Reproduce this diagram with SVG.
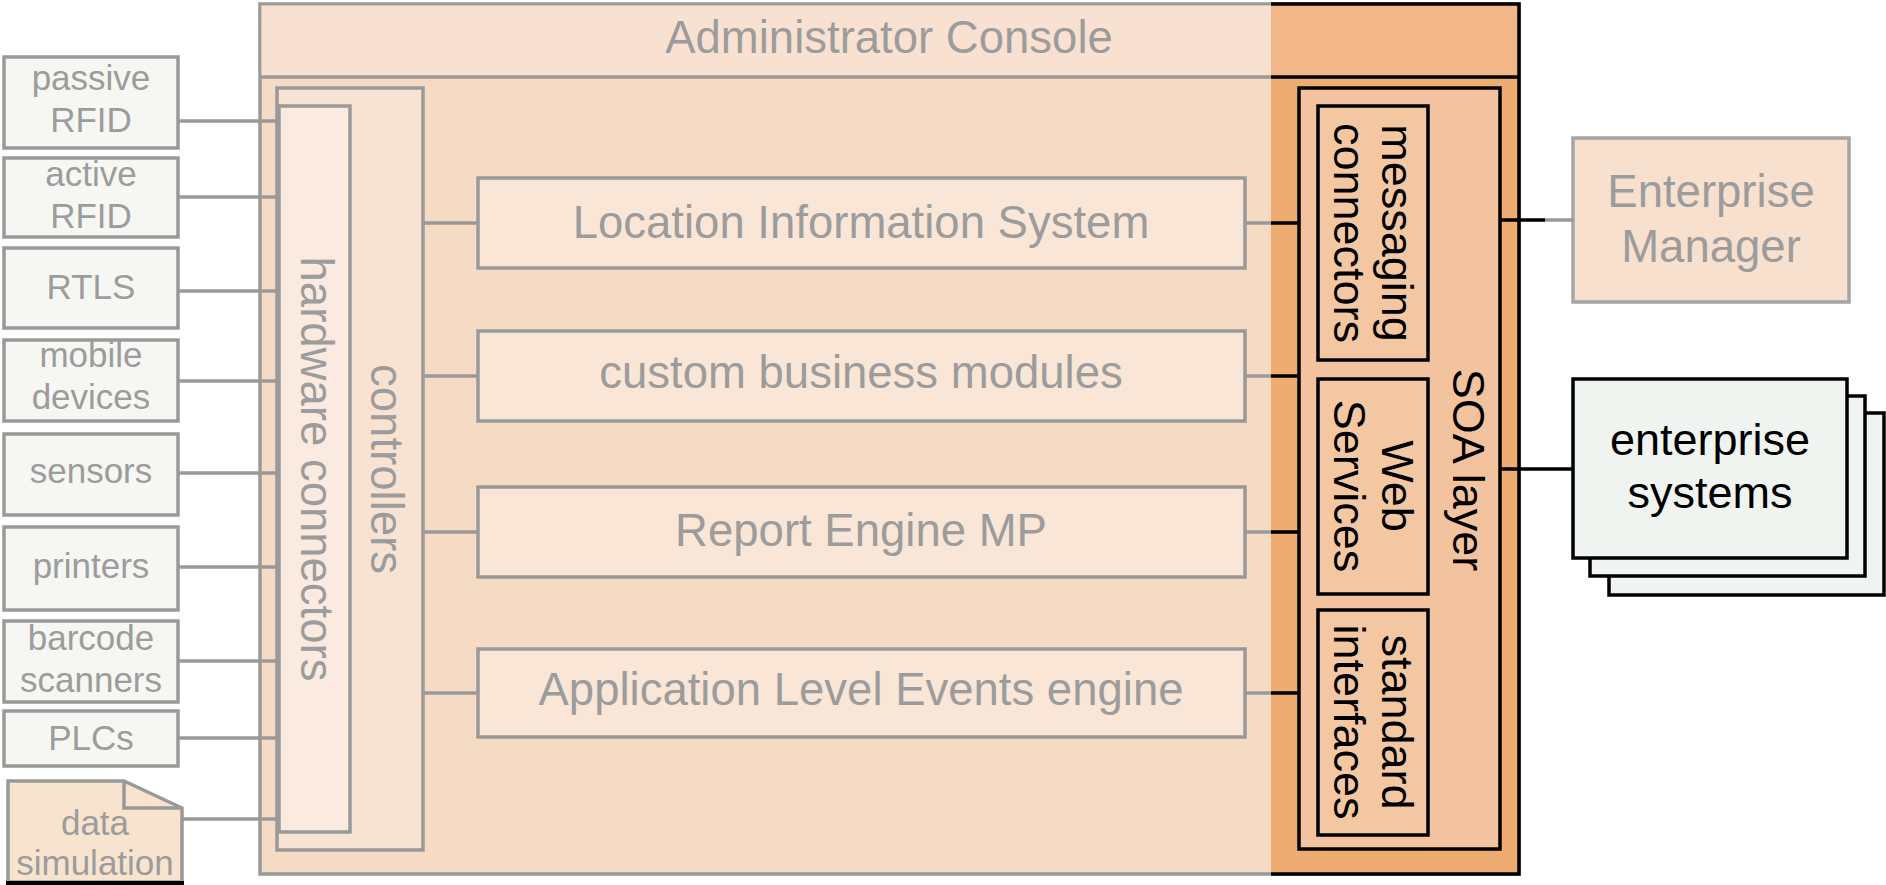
<svg xmlns="http://www.w3.org/2000/svg" width="1886" height="885" viewBox="0 0 1886 885">
<style>
.g{stroke:#999;stroke-width:3.5;fill:none}
.k{stroke:#000;stroke-width:3.5;fill:none}
.dev{fill:#F6F7F2;stroke:#999;stroke-width:3.5}
.mid{fill:#F9E6D7;stroke:#999;stroke-width:3.5}
.inner{fill:#F4C7A3;stroke:#000;stroke-width:3.5}
.tg{font-family:"Liberation Sans",Arial,sans-serif;fill:#9C9C9C;text-anchor:middle}
.tk{font-family:"Liberation Sans",Arial,sans-serif;fill:#000;text-anchor:middle}
.s35{font-size:35px}
.s44{font-size:45.5px}
.s45{font-size:45px}
</style>
<rect width="1886" height="885" fill="#fff"/>
<g id="admin-console">
<rect x="260" y="4" width="1259" height="870" fill="#F5DBC4" stroke="#999" stroke-width="3.5"/>
<rect x="261.5" y="5.5" width="1010" height="71" fill="#F9E1D1"/>
<line x1="260" y1="77" x2="1271" y2="77" class="g"/>
<rect x="1271" y="4" width="248" height="870" fill="#EEAB72"/>
<rect x="1271" y="4" width="248" height="73" fill="#F1B788"/>
<path d="M1271,4 H1519 V874 H1271 M1271,77 H1519" class="k"/>
<text x="889" y="53" class="tg s44">Administrator Console</text>
</g>
<g id="controllers">
<rect x="277" y="88" width="146" height="762" fill="#F8E3D3" stroke="#999" stroke-width="3.5"/>
<text transform="translate(386,469) rotate(90)" y="15" class="tg s44">controllers</text>
</g>
<g id="hardware-connectors">
<rect x="279" y="106" width="71" height="726" fill="#FAEADF" stroke="#999" stroke-width="3.5"/>
<text transform="translate(316,469) rotate(90)" y="15" class="tg s44">hardware connectors</text>
</g>
<g id="lis"><rect x="478" y="178" width="767" height="90" class="mid"/><text x="861" y="238" class="tg s44">Location Information System</text></g>
<g id="cbm"><rect x="478" y="331" width="767" height="90" class="mid"/><text x="861" y="388" class="tg s44">custom business modules</text></g>
<g id="rep"><rect x="478" y="487" width="767" height="90" class="mid"/><text x="861" y="546" class="tg s44">Report Engine MP</text></g>
<g id="ale"><rect x="478" y="649" width="767" height="88" class="mid"/><text x="861" y="705" class="tg s44">Application Level Events engine</text></g>
<g id="soa-layer">
<rect x="1299" y="88" width="201" height="761" fill="#F3C3A0" stroke="#000" stroke-width="3.5"/>
<text transform="translate(1468,470) rotate(90)" y="15" class="tk s45">SOA layer</text>
</g>
<g id="messaging">
<rect x="1318" y="106" width="110" height="254" class="inner"/>
<text transform="translate(1373,233) rotate(90)" class="tk s45"><tspan x="0" y="-9">messaging</tspan><tspan x="0" y="39">connectors</tspan></text>
</g>
<g id="webservices">
<rect x="1318" y="379" width="110" height="215" class="inner"/>
<text transform="translate(1373,486) rotate(90)" class="tk s45"><tspan x="0" y="-9">Web</tspan><tspan x="0" y="39">Services</tspan></text>
</g>
<g id="standard">
<rect x="1318" y="610" width="110" height="225" class="inner"/>
<text transform="translate(1373,722) rotate(90)" class="tk s45"><tspan x="0" y="-9">standard</tspan><tspan x="0" y="39">interfaces</tspan></text>
</g>
<g id="devices">
<g id="passive-rfid"><rect x="4" y="57" width="174" height="91" class="dev"/><text x="91" class="tg s35"><tspan x="91" y="90">passive</tspan><tspan x="91" y="132">RFID</tspan></text></g>
<g id="active-rfid"><rect x="4" y="158" width="174" height="79" class="dev"/><text class="tg s35"><tspan x="91" y="186">active</tspan><tspan x="91" y="228">RFID</tspan></text></g>
<g id="rtls"><rect x="4" y="248" width="174" height="80" class="dev"/><text x="91" y="299" class="tg s35">RTLS</text></g>
<g id="mobile"><rect x="4" y="340" width="174" height="81" class="dev"/><text class="tg s35"><tspan x="91" y="367">mobile</tspan><tspan x="91" y="409">devices</tspan></text></g>
<g id="sensors"><rect x="4" y="434" width="174" height="81" class="dev"/><text x="91" y="483" class="tg s35">sensors</text></g>
<g id="printers"><rect x="4" y="527" width="174" height="83" class="dev"/><text x="91" y="578" class="tg s35">printers</text></g>
<g id="barcode"><rect x="4" y="621" width="174" height="81" class="dev"/><text class="tg s35"><tspan x="91" y="650">barcode</tspan><tspan x="91" y="692">scanners</tspan></text></g>
<g id="plcs"><rect x="4" y="711" width="174" height="55" class="dev"/><text x="91" y="750" class="tg s35">PLCs</text></g>
<g id="data-simulation"><path d="M8,882 V781 H124 L182,808 V882 Z" fill="#F8E4CE" stroke="#999" stroke-width="3.5"/><path d="M124,781 V808 H182" class="g"/><rect x="6" y="881" width="178" height="4" fill="#000"/><text class="tg s35"><tspan x="95" y="835">data</tspan><tspan x="95" y="875">simulation</tspan></text></g>
</g>
<g id="enterprise-manager"><rect x="1573" y="138" width="276" height="164" fill="#F8E0CE" stroke="#A5A5A5" stroke-width="3.5"/><text class="tg s44"><tspan x="1711" y="207">Enterprise</tspan><tspan x="1711" y="262">Manager</tspan></text></g>
<g id="enterprise-systems">
<rect x="1609" y="413" width="275" height="182" fill="#F0F4F0" stroke="#000" stroke-width="3.5"/>
<rect x="1590" y="396" width="275" height="180" fill="#F0F4F0" stroke="#000" stroke-width="3.5"/>
<rect x="1573" y="379" width="274" height="179" fill="#F0F4F0" stroke="#000" stroke-width="3.5"/>
<text class="tk s45"><tspan x="1710" y="455">enterprise</tspan><tspan x="1710" y="508">systems</tspan></text>
</g>
<g id="connectors">
<path class="g" d="M178,121 H279 M178,197 H279 M178,291 H279 M178,381 H279 M178,473 H279 M178,567 H279 M178,661 H279 M178,738 H279 M182,819 H279"/>
<path class="g" d="M423,223 H478 M423,376 H478 M423,532 H478 M423,693 H478"/>
<path class="g" d="M1245,223 H1271 M1245,376 H1271 M1245,532 H1271 M1245,693 H1271"/>
<path class="k" d="M1271,223 H1299 M1271,376 H1299 M1271,532 H1299 M1271,693 H1299"/>
<path class="k" d="M1500,220 H1545 M1500,469 H1573"/>
<path class="g" d="M1545,220 H1573"/>
</g>
</svg>
